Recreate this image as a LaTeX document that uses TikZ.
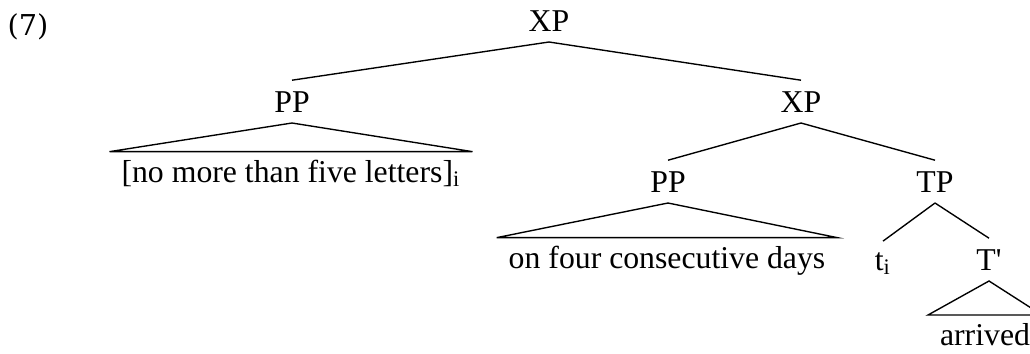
\documentclass[tikz,border=0pt]{standalone}
\usepackage{fontspec}
\setmainfont{Liberation Serif}
\newfontfamily\exfont{DejaVu Serif}
\usetikzlibrary{positioning}
\begin{document}
\begin{tikzpicture}[x=0.4pt,y=-0.4pt,line width=0.55pt]

  \tikzstyle{cat}=[inner sep=0pt, outer sep=4.4pt, anchor=base, font=\fontsize{12.7}{15}\selectfont]
  \tikzstyle{leaf}=[cat, outer xsep=4.8pt, outer ysep=3.2pt]
  \tikzstyle{roof}=[line join=miter]

  \useasboundingbox (0,0) rectangle (1030,353);

  % Example number
  \node at (7,35) [anchor=base west, inner sep=0pt, font=\exfont\fontsize{11.5}{13}\selectfont] (ex) {(7)};

  % Categories
  \node at (549,31)  [cat] (XP)   {XP};
  \node at (292,112) [cat] (PP)   {PP};
  \node at (801,112) [cat] (XPb)  {XP};
  \node at (668,192) [cat] (PPb)  {PP};
  \node at (935,192) [cat] (TP)   {TP};
  \node at (883,270) [cat] (trace) {t\textsubscript{i}};
  \node at (989,270) [cat] (Tbar) {T\textquotesingle};

  % Leaves
  \node at (291,182) [leaf] (wh)      {[no more than five letters]\textsubscript{i}};
  \node at (667,268) [leaf] (days)    {on four consecutive days};
  \node at (985,345) [leaf] (arrived) {arrived};

  % Branches
  \draw (XP.south) -- (PP.north);
  \draw (XP.south) -- (XPb.north);
  \draw (XPb.south) -- (PPb.north);
  \draw (XPb.south) -- (TP.north);
  \draw (TP.south) -- (trace.north);
  \draw (TP.south) -- (Tbar.north);

  % Roofs
  \draw[roof] (PP.south) -- (wh.north west) -- (wh.north east) -- cycle;
  \draw[roof] (PPb.south) -- (days.north west) -- (days.north east) -- cycle;
  \draw[roof] (Tbar.south) -- (arrived.north west) -- (arrived.north east) -- cycle;

\end{tikzpicture}
\end{document}
